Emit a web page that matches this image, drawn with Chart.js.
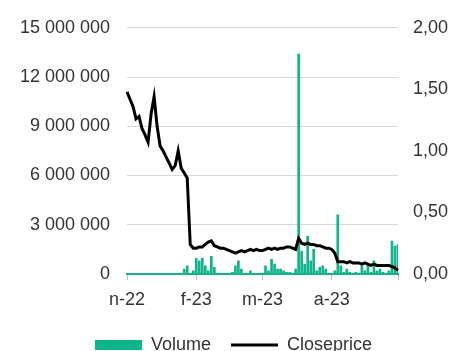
<!DOCTYPE html>
<html>
<head>
<meta charset="utf-8">
<script src="https://cdn.jsdelivr.net/npm/chart.js@4"></script>
<style>
  html, body { margin: 0; padding: 0; background: #fff; overflow: hidden; }
</style>
</head>
<body>
<canvas id="myChart" width="453" height="364"></canvas>
<script>
// close price (right axis), read roughly every 3 px across the plot
const closePrice = [
  1.48, 1.42, 1.36, 1.26, 1.28, 1.18, 1.13, 1.07, 1.30, 1.44,
  1.20, 1.04, 1.00, 0.95, 0.90, 0.85, 0.88, 1.00, 0.86, 0.82,
  0.78, 0.24, 0.21, 0.21, 0.22, 0.22, 0.24, 0.26, 0.27, 0.23,
  0.22, 0.21, 0.21, 0.20, 0.19, 0.18, 0.17, 0.18, 0.19, 0.18,
  0.19, 0.20, 0.19, 0.20, 0.19, 0.19, 0.20, 0.21, 0.20, 0.21,
  0.20, 0.21, 0.21, 0.22, 0.22, 0.21, 0.20, 0.29, 0.25, 0.24,
  0.25, 0.24, 0.24, 0.23, 0.23, 0.22, 0.21, 0.21, 0.20, 0.17,
  0.10, 0.10, 0.10, 0.09, 0.10, 0.09, 0.09, 0.09, 0.08, 0.09,
  0.08, 0.07, 0.08, 0.07, 0.07, 0.07, 0.07, 0.07, 0.06, 0.05, 0.03,
];

// volume (left axis)
const volume = [
  0, 0, 0, 0, 0, 0, 0, 0, 0, 0,
  0, 0, 0, 0, 0, 0, 0, 0, 0, 300000,
  500000, 0, 200000, 960000, 800000, 960000, 500000, 200000, 1080000, 400000,
  0, 0, 0, 0, 0, 100000, 500000, 800000, 300000, 0,
  0, 200000, 0, 0, 0, 0, 500000, 200000, 900000, 600000,
  300000, 300000, 200000, 100000, 100000, 0, 300000, 13400000, 1400000, 600000,
  2300000, 800000, 1500000, 200000, 400000, 500000, 300000, 0, 0, 200000,
  3600000, 500000, 100000, 300000, 100000, 0, 100000, 0, 500000, 200000,
  600000, 100000, 800000, 200000, 300000, 100000, 0, 200000, 2000000, 1700000, 1800000,
];

// x axis: which points carry a month label / tick mark
const tickIndex = [0, 23, 45, 68, 90];
const tickText = ['n-22', 'f-23', 'm-23', 'a-23', ''];

const labels = closePrice.map((_, i) => i);

const green = '#10b48a';
const textColor = '#333333';
const fontFamily = "'Liberation Sans', Arial, sans-serif";

const fmtVolume = (v) => String(v).replace(/\B(?=(\d{3})+(?!\d))/g, ' ');
const fmtPrice = (v) => v.toFixed(2).replace('.', ',');

const data = {
  labels: labels,
  datasets: [
    {
      type: 'bar',
      label: 'Volume',
      data: volume,
      backgroundColor: green,
      borderWidth: 0,
      barThickness: 2,
      yAxisID: 'y',
      order: 2,
      pointStyle: 'rect',
    },
    {
      type: 'line',
      label: 'Closeprice',
      data: closePrice,
      borderColor: '#000000',
      backgroundColor: '#000000',
      borderWidth: 3,
      pointRadius: 0,
      tension: 0,
      yAxisID: 'y1',
      order: 1,
      pointStyle: 'line',
    },
  ],
};

const config = {
  type: 'bar',
  data: data,
  options: {
    responsive: false,
    animation: false,
    layout: { padding: { top: 27, left: 14, right: 0, bottom: 0 } },
    plugins: {
      tooltip: { enabled: false },
      legend: {
        position: 'bottom',
        labels: {
          usePointStyle: true,
          pointStyleWidth: 47,
          boxHeight: 10,
          padding: 20,
          color: textColor,
          font: { family: fontFamily, size: 18 },
          sort: (a, b) => a.datasetIndex - b.datasetIndex,
        },
      },
    },
    scales: {
      x: {
        type: 'category',
        offset: false,
        grid: {
          offset: false,
          drawOnChartArea: false,
          drawTicks: true,
          tickLength: 6,
          color: (ctx) => (tickIndex.includes(ctx.index) ? '#bfbfbf' : 'rgba(0,0,0,0)'),
        },
        border: { display: true, color: green, width: 2 },
        ticks: {
          autoSkip: false,
          maxRotation: 0,
          padding: 9,
          color: textColor,
          font: { family: fontFamily, size: 18 },
          callback: (v, i) => {
            const k = tickIndex.indexOf(i);
            return k >= 0 ? tickText[k] : '';
          },
        },
        afterFit: (scale) => {
          scale.height = 42;
        },
      },
      y: {
        position: 'left',
        min: 0,
        max: 15000000,
        grid: { color: '#d9d9d9', drawTicks: false },
        border: { display: false },
        ticks: {
          stepSize: 3000000,
          padding: 17,
          color: textColor,
          font: { family: fontFamily, size: 18 },
          callback: (v) => fmtVolume(v),
        },
        afterFit: (scale) => {
          scale.width = 113;
        },
      },
      y1: {
        position: 'right',
        min: 0,
        max: 2,
        grid: { drawOnChartArea: false, drawTicks: false },
        border: { display: false },
        ticks: {
          stepSize: 0.5,
          padding: 15,
          color: textColor,
          font: { family: fontFamily, size: 18 },
          callback: (v) => fmtPrice(v),
        },
        afterFit: (scale) => {
          scale.width = 55;
        },
      },
    },
  },
};

const myChart = new Chart(document.getElementById('myChart'), config);
</script>
</body>
</html>
